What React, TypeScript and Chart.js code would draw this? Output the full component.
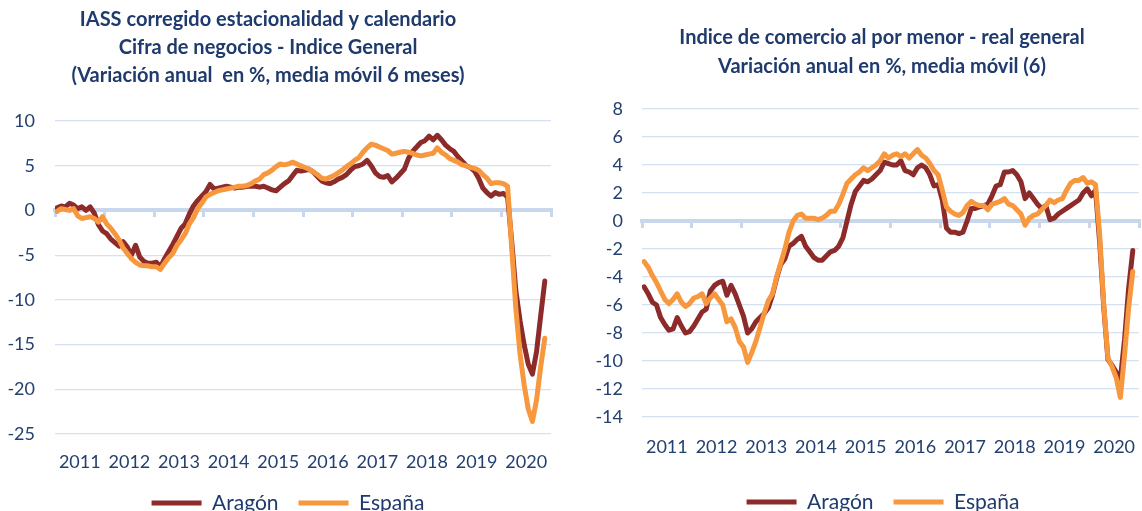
import React, { useEffect, useRef } from 'react';
import { Chart, registerables } from 'chart.js';

Chart.register(...registerables);

// ---------- data ----------
const years = ['2011', '2012', '2013', '2014', '2015', '2016', '2017', '2018', '2019', '2020'];
const seriesNames = ['Aragón', 'España'];

const leftTitle = [
  'IASS corregido estacionalidad y calendario',
  'Cifra de negocios - Indice General',
  '(Variación anual  en %, media móvil 6 meses)',
];
const rightTitle = [
  'Indice de comercio al por menor - real general',
  'Variación anual en %, media móvil (6)',
];

// IASS (monthly, Jan 2011 .. Nov 2020)
const iassAragon = [
  0.3, 0.5, 0.4, 0.8, 0.6, 0.2, 0.4, 0.0, 0.4, -0.3,
  -1.6, -2.3, -2.6, -3.2, -3.6, -4.0, -3.5, -4.1, -5.0, -3.9,
  -5.2, -5.7, -5.9, -5.9, -5.8, -6.3, -5.4, -4.6, -3.8, -2.9,
  -2.0, -1.5, -0.4, 0.5, 1.1, 1.6, 2.1, 2.9, 2.4, 2.5,
  2.6, 2.7, 2.6, 2.5, 2.6, 2.6, 2.7, 2.7, 2.7, 2.6,
  2.7, 2.5, 2.3, 2.2, 2.6, 3.0, 3.3, 3.9, 4.5, 4.4,
  4.5, 4.6, 4.3, 3.8, 3.3, 3.1, 3.0, 3.2, 3.5, 3.7,
  4.0, 4.5, 4.9, 5.0, 5.2, 5.6, 5.0, 4.2, 3.8, 3.7,
  3.9, 3.2, 3.6, 4.1, 4.6, 5.8, 6.6, 7.1, 7.6, 7.8,
  8.3, 7.9, 8.4, 7.9, 7.3, 6.9, 6.6, 6.0, 5.5, 5.0,
  4.8, 4.4, 3.6, 2.5, 2.0, 1.6, 2.0, 1.8, 1.9, 1.5,
  -3.5, -9.0, -12.3, -15.0, -17.2, -18.3, -15.8, -11.8, -7.9,
];
const iassEspana = [
  -0.1, 0.2, 0.1, 0.0, 0.2, -0.6, -0.9, -0.8, -0.7, -0.9,
  -1.3, -0.7, -1.5, -2.0, -2.6, -3.3, -4.2, -4.8, -5.4, -5.8,
  -6.1, -6.2, -6.2, -6.3, -6.3, -6.6, -5.9, -5.3, -4.8, -3.9,
  -3.3, -2.6, -1.5, -0.8, 0.2, 0.8, 1.5, 1.8, 2.0, 2.2,
  2.3, 2.4, 2.5, 2.6, 2.7, 2.7, 2.8, 3.0, 3.3, 3.5,
  4.0, 4.2, 4.5, 4.9, 5.2, 5.1, 5.2, 5.4, 5.2, 5.0,
  4.8, 4.6, 4.3, 4.0, 3.6, 3.5, 3.7, 3.9, 4.2, 4.5,
  4.9, 5.2, 5.6, 5.9, 6.5, 7.0, 7.4, 7.3, 7.1, 6.9,
  6.7, 6.3, 6.4, 6.5, 6.6, 6.5, 6.4, 6.2, 6.1, 6.2,
  6.3, 6.4, 7.0, 6.5, 6.2, 5.8, 5.6, 5.4, 5.1, 5.0,
  4.8, 4.7, 4.5, 4.0, 3.6, 3.0, 3.1, 3.1, 3.0, 2.7,
  -4.2, -11.0, -16.0, -19.5, -22.2, -23.6, -21.2, -17.5, -14.3,
];

// Comercio al por menor (monthly, Jan 2011 .. Nov 2020)
const icmAragon = [
  -4.7, -5.2, -5.8, -6.0, -6.9, -7.4, -7.8, -7.7, -6.9, -7.5,
  -8.0, -7.9, -7.5, -7.0, -6.5, -6.3, -5.0, -4.6, -4.4, -4.3,
  -5.3, -4.6, -5.2, -6.0, -6.8, -8.0, -7.7, -7.2, -6.9, -6.6,
  -6.2, -5.3, -4.1, -3.1, -2.7, -1.8, -1.6, -1.3, -1.1, -1.8,
  -2.2, -2.6, -2.8, -2.8, -2.5, -2.2, -2.1, -1.8, -1.2, 0.0,
  1.2, 2.1, 2.5, 2.9, 2.8, 3.0, 3.3, 3.6, 4.2, 4.1,
  4.0, 4.0, 4.3, 3.6, 3.5, 3.3, 3.8, 4.0, 3.8, 3.3,
  2.5, 2.6, 1.5, -0.5, -0.8, -0.8, -0.9, -0.8, 0.0, 0.9,
  0.9, 1.0, 1.1, 1.2, 1.8, 2.5, 2.6, 3.5, 3.5, 3.6,
  3.3, 2.8, 1.6, 2.0, 1.6, 1.2, 0.9, 1.1, 0.1, 0.2,
  0.5, 0.7, 0.9, 1.1, 1.3, 1.5, 2.0, 2.3, 1.8, 2.2,
  -1.5, -6.2, -9.9, -10.3, -10.8, -11.3, -8.5, -4.8, -2.1,
];
const icmEspana = [
  -2.9, -3.3, -3.9, -4.4, -5.0, -5.6, -5.9, -5.6, -5.2, -5.8,
  -6.1, -5.9, -5.5, -5.4, -5.2, -5.9, -5.5, -5.2, -5.6, -6.0,
  -7.2, -7.0, -7.6, -8.6, -9.0, -10.1, -9.4, -8.6, -7.6, -6.6,
  -5.7, -5.2, -4.0, -3.0, -2.0, -0.8, 0.0, 0.4, 0.5, 0.2,
  0.2, 0.2, 0.1, 0.2, 0.4, 0.7, 0.7, 1.2, 1.9, 2.7,
  3.0, 3.3, 3.5, 3.8, 3.6, 3.8, 4.0, 4.3, 4.8, 4.5,
  4.7, 4.8, 4.6, 4.8, 4.5, 4.8, 5.1, 4.7, 4.5, 4.1,
  3.6, 3.3, 2.2, 1.0, 0.7, 0.5, 0.4, 0.6, 1.1, 1.4,
  1.2, 1.1, 1.1, 0.8, 1.2, 1.3, 1.4, 1.6, 1.2, 1.1,
  0.8, 0.5, -0.3, 0.2, 0.4, 0.5, 0.8, 1.1, 1.5, 1.3,
  1.5, 1.6, 2.2, 2.7, 2.9, 2.9, 3.1, 2.7, 2.8, 2.6,
  -1.0, -6.0, -9.8, -10.4, -11.2, -12.6, -9.6, -6.2, -3.6,
];

// ---------- styles ----------
const FONT = 'Lato, "Open Sans", "DejaVu Sans", sans-serif';
const NAVY = '#1F3A6D';
const TICK = '#23406F';
const GRID = '#D5E0F0';
const ZERO = '#C8D7EC';
const ARAGON = '#8C2B2A';
const ESPANA = '#F7973E';

const shiftTitlePlugin = {
  id: 'shiftTitle',
  afterLayout(chart: any, _args: any, opts: any) {
    const t = chart.titleBlock;
    if (t && opts && opts.dx) {
      t.left += opts.dx;
      t.right += opts.dx;
    }
  },
};

type Panel = {
  title: string[];
  aragon: number[];
  espana: number[];
  yMin: number;
  yMax: number;
  yStep: number;
  yWidth: number;
  yPad: number;
  rightWidth: number;
  titleTop: number;
  titleBottom: number;
  titleLH: number;
  titleDx: number;
  xPad: number;
  xHeight: number;
  padBottom: number;
};

function makeConfig(p: Panel): any {
  const toPoints = (arr: number[]) => arr.map((v, i) => ({ x: i + 0.5, y: v }));
  const lineCommon = {
    borderWidth: 5,
    pointRadius: 0,
    pointHoverRadius: 0,
    tension: 0,
    borderJoinStyle: 'round',
    borderCapStyle: 'round',
    fill: false,
  };
  return {
    type: 'line',
    data: {
      datasets: [
        { ...lineCommon, label: seriesNames[0], data: toPoints(p.aragon), borderColor: ARAGON, backgroundColor: ARAGON, order: 1 },
        { ...lineCommon, label: seriesNames[1], data: toPoints(p.espana), borderColor: ESPANA, backgroundColor: ESPANA, order: 0 },
      ],
    },
    options: {
      responsive: false,
      animation: false,
      devicePixelRatio: 1,
      layout: { padding: { top: 0, left: 0, right: 0, bottom: p.padBottom } },
      plugins: {
        title: {
          display: true,
          text: p.title,
          color: NAVY,
          font: { family: FONT, size: 20, weight: 'bold', lineHeight: `${p.titleLH}px` },
          padding: { top: p.titleTop, bottom: p.titleBottom },
        },
        legend: {
          position: 'bottom',
          labels: {
            usePointStyle: true,
            pointStyle: 'line',
            pointStyleWidth: 50,
            color: NAVY,
            font: { family: FONT, size: 21 },
            padding: 20,
            sort: (a: any, b: any) => a.datasetIndex - b.datasetIndex,
          },
        },
        tooltip: { enabled: false },
        shiftTitle: { dx: p.titleDx },
      },
      scales: {
        x: {
          type: 'linear',
          position: 'bottom',
          min: 0,
          max: years.length * 12,
          grid: { display: false, drawTicks: false },
          border: { display: false },
          afterBuildTicks: (s: any) => {
            s.ticks = years.map((_, i) => ({ value: i * 12 + 6 }));
          },
          ticks: {
            autoSkip: false,
            maxRotation: 0,
            padding: p.xPad,
            color: TICK,
            font: { family: FONT, size: 18 },
            callback: (v: any) => years[Math.round((Number(v) - 6) / 12)],
          },
          afterFit: (s: any) => {
            s.height = p.xHeight;
          },
        },
        x0: {
          type: 'linear',
          axis: 'x',
          position: { y: 0 },
          min: 0,
          max: years.length * 12,
          afterBuildTicks: (s: any) => {
            const t: any[] = [];
            for (let i = 0; i <= years.length; i++) t.push({ value: i * 12 });
            s.ticks = t;
          },
          ticks: { display: false },
          grid: { drawOnChartArea: false, drawTicks: true, tickLength: 5, color: ZERO, lineWidth: 3 },
          border: { display: true, color: ZERO, width: 4 },
        },
        y: {
          type: 'linear',
          position: 'left',
          min: p.yMin,
          max: p.yMax,
          ticks: {
            stepSize: p.yStep,
            padding: p.yPad,
            color: TICK,
            font: { family: FONT, size: 18 },
          },
          grid: { color: GRID, lineWidth: 1.2, drawTicks: false },
          border: { display: false },
          afterFit: (s: any) => {
            s.width = p.yWidth;
          },
        },
        yr: {
          type: 'linear',
          position: 'right',
          display: true,
          ticks: { display: false },
          grid: { display: false, drawTicks: false },
          border: { display: false },
          afterFit: (s: any) => {
            s.width = p.rightWidth;
          },
        },
      },
    },
    plugins: [shiftTitlePlugin],
  };
}

const leftPanel: Panel = {
  title: leftTitle,
  aragon: iassAragon,
  espana: iassEspana,
  yMin: -25,
  yMax: 10,
  yStep: 5,
  yWidth: 55,
  yPad: 20,
  rightWidth: 25,
  titleTop: 6,
  titleBottom: 31,
  titleLH: 28,
  titleDx: -20,
  xPad: 17,
  xHeight: 38.5,
  padBottom: 6.5,
};

const rightPanel: Panel = {
  title: rightTitle,
  aragon: icmAragon,
  espana: icmEspana,
  yMin: -14,
  yMax: 8,
  yStep: 2,
  yWidth: 52,
  yPad: 19,
  rightWidth: 37,
  titleTop: 23.5,
  titleBottom: 27.5,
  titleLH: 29,
  titleDx: -1,
  xPad: 19,
  xHeight: 54.5,
  padBottom: 7.5,
};

function ChartCanvas({ panel, left, width }: { panel: Panel; left: number; width: number }) {
  const ref = useRef<HTMLCanvasElement | null>(null);
  useEffect(() => {
    if (!ref.current) return;
    const chart = new Chart(ref.current, makeConfig(panel));
    return () => chart.destroy();
  }, [panel]);
  return (
    <canvas
      ref={ref}
      width={width}
      height={530}
      style={{ position: 'absolute', left, top: 0, width, height: 530 }}
    />
  );
}

export default function App() {
  useEffect(() => {
    document.body.style.margin = '0';
    document.body.style.background = '#ffffff';
  }, []);
  return (
    <div style={{ position: 'relative', width: 1142, height: 511, overflow: 'hidden', background: '#ffffff' }}>
      <ChartCanvas panel={leftPanel} left={0} width={576} />
      <ChartCanvas panel={rightPanel} left={590} width={586} />
    </div>
  );
}
